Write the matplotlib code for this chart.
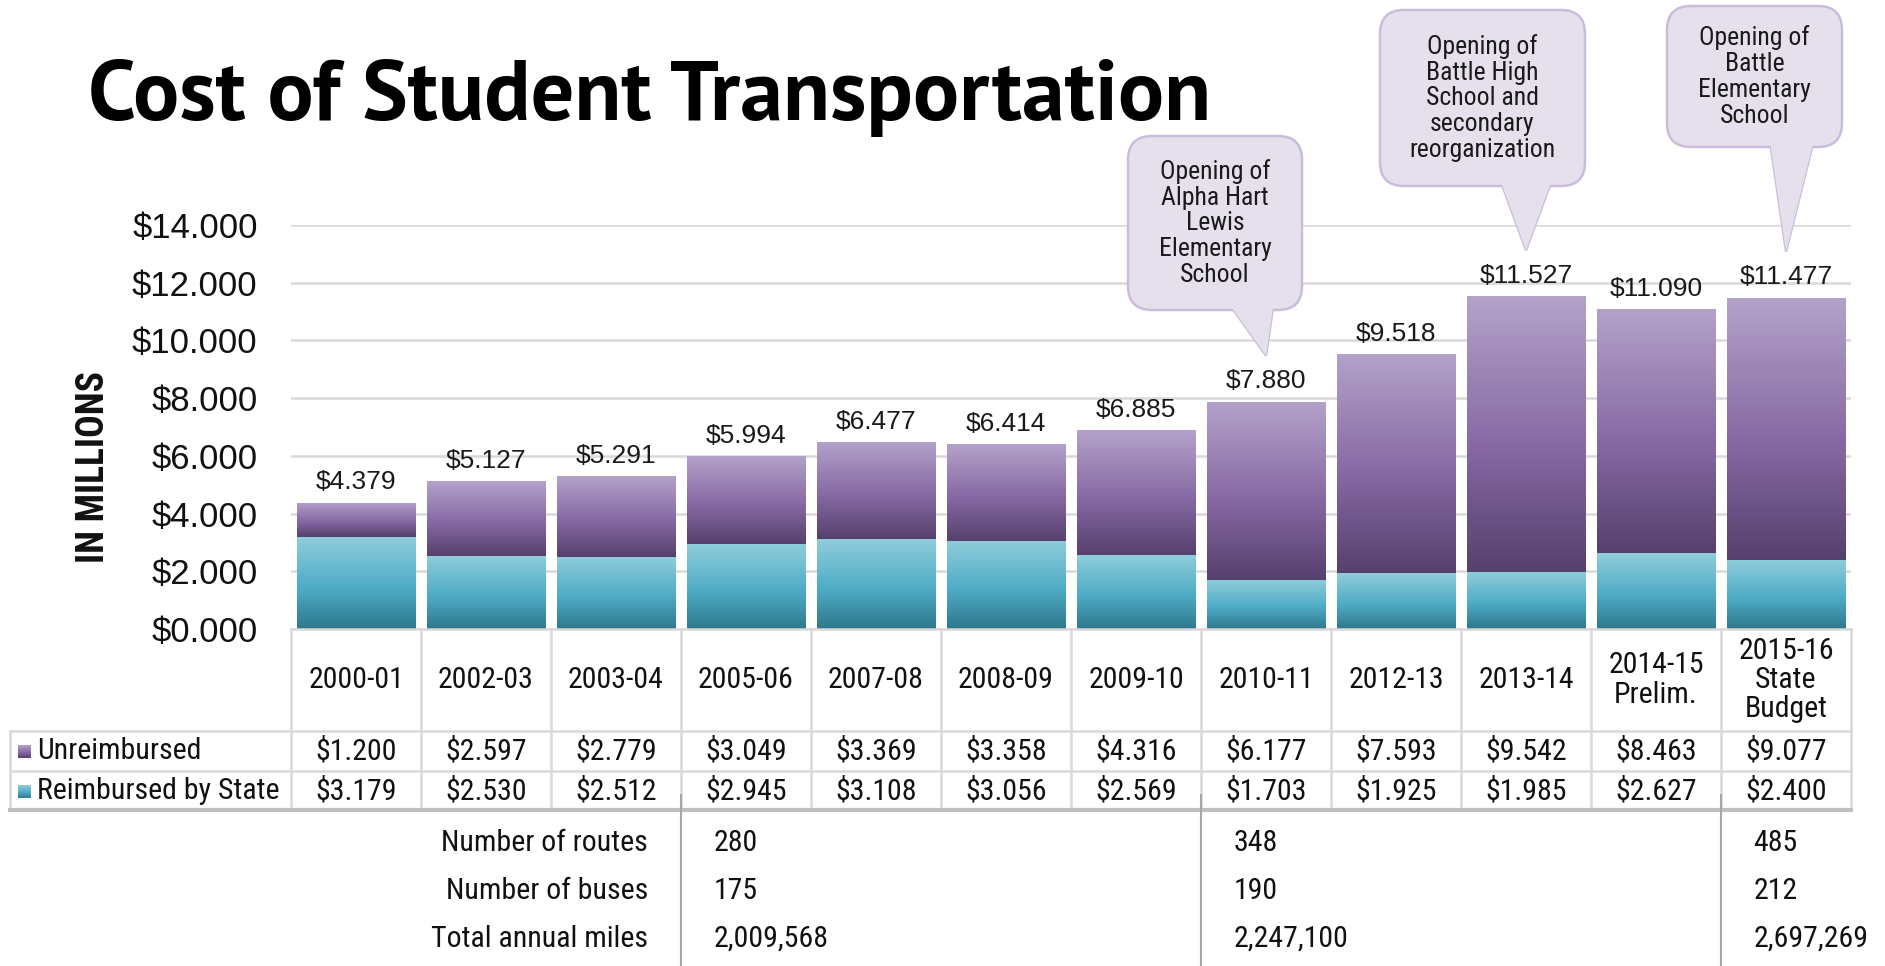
import matplotlib
matplotlib.use('Agg')
import matplotlib.pyplot as plt
import numpy as np
from matplotlib.colors import LinearSegmentedColormap
from matplotlib.lines import Line2D
from matplotlib.patches import FancyBboxPatch, Polygon
from matplotlib.transforms import blended_transform_factory, IdentityTransform

categories = ['2000-01', '2002-03', '2003-04', '2005-06', '2007-08', '2008-09', '2009-10',
              '2010-11', '2012-13', '2013-14', '2014-15\nPrelim.', '2015-16\nState\nBudget']
unreimbursed = [1.200, 2.597, 2.779, 3.049, 3.369, 3.358, 4.316, 6.177, 7.593, 9.542, 8.463, 9.077]
reimbursed = [3.179, 2.530, 2.512, 2.945, 3.108, 3.056, 2.569, 1.703, 1.925, 1.985, 2.627, 2.400]

stat_names = ['Number of routes', 'Number of buses', 'Total annual miles']
stat_columns = [3, 7, 11]  # category index where each group of stats starts
stat_values = [['280', '175', '2,009,568'],
               ['348', '190', '2,247,100'],
               ['485', '212', '2,697,269']]

callout_bars = [7, 9, 11]
callout_texts = ['Opening of\nAlpha Hart\nLewis\nElementary\nSchool',
                 'Opening of\nBattle High\nSchool and\nsecondary\nreorganization',
                 'Opening of\nBattle\nElementary\nSchool']

W, H = 1885, 966
COND = ['Roboto Condensed', 'Liberation Sans', 'DejaVu Sans']
TITLE = ['PT Sans', 'Liberation Sans', 'DejaVu Sans']
REG = ['Liberation Sans', 'DejaVu Sans']
INK = '#111111'
TS = 21.5  # table font size

purple = LinearSegmentedColormap.from_list('p', [(0, '#56406e'), (0.45, '#8669a3'), (1, '#b4a2ca')])
teal = LinearSegmentedColormap.from_list('t', [(0, '#2e788c'), (0.45, '#4eacc6'), (1, '#90cddb')])
grad = np.linspace(0, 1, 256).reshape(-1, 1)

fig = plt.figure(figsize=(W / 100, H / 100), dpi=100)
ax = fig.add_axes([291 / W, 1 - 629 / H, (1851 - 291) / W, (629 - 225) / H])

x = np.arange(len(categories))
totals = np.array(unreimbursed) + np.array(reimbursed)
b1 = ax.bar(x, reimbursed, width=0.915, color='none', zorder=2)
b2 = ax.bar(x, unreimbursed, bottom=reimbursed, width=0.915, color='none', zorder=2)

# vertical gradient fill for every bar segment
for bars, cmap in [(b1, teal), (b2, purple)]:
    for p in bars:
        x0, y0 = p.get_xy()
        im = ax.imshow(grad, extent=[x0, x0 + p.get_width(), y0, y0 + p.get_height()],
                       origin='lower', aspect='auto', cmap=cmap, zorder=2)
        im.set_clip_path(p)
        p.set_edgecolor('none')

ax.bar_label(b2, labels=[f'${t:.3f}' for t in totals], padding=6,
             fontsize=19, family=REG, color='#1a1a1a')

ax.set_xlim(-0.5, len(categories) - 0.5)
ax.set_ylim(0, 14)
ax.set_yticks(np.arange(0, 15, 2))
ax.set_yticklabels([f'${v:.3f}' for v in np.arange(0, 15, 2)], family=REG)
ax.tick_params(axis='y', length=0, pad=24, labelsize=25, labelcolor=INK)
ax.set_xticks([])
ax.grid(axis='y', color='#d9d9d9', lw=1.8)
ax.set_axisbelow(True)
for s in ax.spines.values():
    s.set_visible(False)

fig.text(94 / W, 1 - 467 / H, 'IN MILLIONS', rotation=90, ha='center', va='center',
         fontsize=27, fontweight='bold', family=COND, color=INK)

fig.text(88 / W, 1 - 120 / H, 'Cost of Student Transportation', ha='left', va='baseline',
         fontsize=62, fontweight='bold', family=TITLE, color='black')

# table under the chart
bt = blended_transform_factory(ax.transData, fig.transFigure)
fy = lambda py: 1 - py / H
left_f = 10 / W
right_f = ax.get_position().x1
grid_c = '#d9d9d9'

for b in np.arange(-0.5, len(categories), 1.0):
    fig.add_artist(Line2D([b, b], [fy(629), fy(810)], transform=bt, color=grid_c, lw=1.8))
fig.add_artist(Line2D([left_f, left_f], [fy(731), fy(810)], transform=fig.transFigure, color=grid_c, lw=1.8))
fig.add_artist(Line2D([ax.get_position().x0, right_f], [fy(629), fy(629)], transform=fig.transFigure, color=grid_c, lw=1.8))
for py in [731, 771]:
    fig.add_artist(Line2D([left_f, right_f], [fy(py), fy(py)], transform=fig.transFigure, color=grid_c, lw=1.8))
fig.add_artist(Line2D([left_f, right_f], [fy(810), fy(810)], transform=fig.transFigure, color='#bfbfbf', lw=3))

for i, c in enumerate(categories):
    fig.text(i, fy(680), c, transform=bt, ha='center', va='center', fontsize=TS,
             family=COND, linespacing=1.05, color=INK)
    fig.text(i, fy(751), f'${unreimbursed[i]:.3f}', transform=bt, ha='center', va='center',
             fontsize=TS, family=COND, color=INK)
    fig.text(i, fy(791), f'${reimbursed[i]:.3f}', transform=bt, ha='center', va='center',
             fontsize=TS, family=COND, color=INK)

for label, cmap, py in [('Unreimbursed', purple, 751), ('Reimbursed by State', teal, 791)]:
    sw = fig.add_axes([18 / W, fy(py + 7), 13 / W, 13 / H])
    sw.imshow(grad, origin='lower', aspect='auto', cmap=cmap)
    sw.axis('off')
    fig.text(37 / W, fy(py), label, ha='left', va='center', fontsize=TS, family=COND, color=INK)

for name, py in zip(stat_names, [843, 891, 939]):
    fig.text(648 / W, fy(py), name, ha='right', va='center', fontsize=TS, family=COND, color=INK)
for col, vals in zip(stat_columns, stat_values):
    fig.add_artist(Line2D([col - 0.5, col - 0.5], [fy(795), 0], transform=bt, color='#a6a6a6', lw=1.5))
    for v, py in zip(vals, [843, 891, 939]):
        fig.text(col - 0.25, fy(py), v, transform=bt, ha='left', va='center', fontsize=TS,
                 family=COND, color=INK)

# callouts: box in figure pixels (left, top, right, bottom), tip points at the bar
boxes = [(1128, 136, 1302, 310), (1380, 10, 1585, 186), (1667, 6, 1842, 147)]
ident = IdentityTransform()
for bi, txt, (l, t, r, bm) in zip(callout_bars, callout_texts, boxes):
    tip = ax.transData.transform((bi, totals[bi] + 1.6))
    t, bm = H - t, H - bm
    w = r - l
    base0, base1 = l + 0.59 * w, l + 0.835 * w
    tail = [(base0, bm + 4), (base1, bm + 4), tuple(tip)]
    fig.add_artist(Polygon(tail, closed=True, transform=ident, facecolor='#e5e0ec',
                           edgecolor='#c9bddb', lw=1.8, zorder=5))
    fig.add_artist(FancyBboxPatch((l, bm), w, t - bm, boxstyle='round,pad=0,rounding_size=24',
                                  transform=ident, facecolor='#e5e0ec', edgecolor='#c9bddb',
                                  lw=1.8, zorder=6))
    fig.add_artist(Polygon(tail, closed=True, transform=ident, facecolor='#e5e0ec',
                           edgecolor='none', zorder=7))
    fig.text((l + r) / 2 / W, (t + bm) / 2 / H, txt, ha='center', va='center', fontsize=18.5,
             family=COND, linespacing=1.1, color='#1a1a1a', zorder=8)

fig.savefig('out.png', dpi=100)
